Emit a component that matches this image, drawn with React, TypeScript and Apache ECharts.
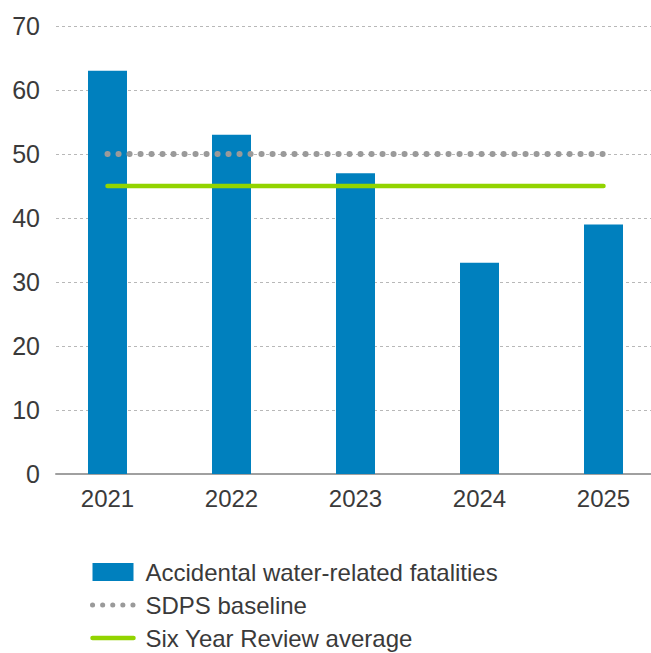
import React, { useEffect, useRef } from "react";
import * as echarts from "echarts";

const years = ["2021", "2022", "2023", "2024", "2025"];
const fatalities = [63, 53, 47, 33, 39];
const sdpsBaseline = [50, 50, 50, 50, 50];
const sixYearAverage = [45, 45, 45, 45, 45];
const yTicks = [0, 10, 20, 30, 40, 50, 60, 70];

const FONT = "'Liberation Sans', Arial, Helvetica, sans-serif";
const NARROW = "'Liberation Sans Narrow', 'Arial Narrow', 'Liberation Sans', Arial, sans-serif";

export default function App() {
  const ref = useRef<HTMLDivElement>(null);
  useEffect(() => {
    if (!ref.current) return;
    const chart = echarts.init(ref.current, undefined, { renderer: "svg" });
    const idx = years.map((_, i) => i);
    chart.setOption({
      animation: false,
      textStyle: { fontFamily: FONT },
      grid: { left: 56, right: 0, top: 26, bottom: 179 },
      xAxis: {
        type: "value",
        min: -0.4153,
        max: 4.383,
        axisLine: { show: true, lineStyle: { color: "#a0a0a0", width: 2 } },
        axisTick: { show: false },
        splitLine: { show: false },
        axisLabel: {
          customValues: idx,
          formatter: (v: number) => years[Math.round(v)] ?? "",
          color: "#3a3a3a",
          fontSize: 24,
          margin: 12,
          fontFamily: NARROW,
        },
      },
      yAxis: {
        type: "value",
        min: yTicks[0],
        max: yTicks[yTicks.length - 1],
        interval: 10,
        axisLine: { show: false },
        axisTick: { show: false },
        axisLabel: { color: "#3a3a3a", fontSize: 25, margin: 16, fontFamily: FONT },
        splitLine: { show: true, lineStyle: { color: "#b8b8b8", type: [3, 3], width: 1 } },
      },
      legend: {
        orient: "vertical",
        left: 90,
        top: 560,
        padding: 0,
        itemGap: 9,
        itemWidth: 41,
        itemHeight: 18,
        textStyle: { color: "#3a3a3a", fontSize: 24, fontFamily: FONT, padding: [0, 0, 0, 7] },
        data: [
          { name: "Accidental water-related fatalities", icon: "rect" },
          {
            name: "SDPS baseline",
            itemStyle: { opacity: 0 },
            lineStyle: { width: 5, color: "#9a9a9a", type: [0.1, 10], cap: "round" },
          },
          {
            name: "Six Year Review average",
            itemStyle: { opacity: 0 },
            lineStyle: { width: 4.5, color: "#92d400", cap: "round" },
          },
        ],
      },
      series: [
        {
          name: "Accidental water-related fatalities",
          type: "bar",
          data: fatalities.map((v, i) => [i, v]),
          barWidth: 39,
          itemStyle: { color: "#0080be" },
          z: 2,
        },
        {
          name: "SDPS baseline",
          type: "line",
          data: sdpsBaseline.map((v, i) => [i, v]),
          symbol: "none",
          lineStyle: { color: "#9a9a9a", width: 6, type: [0.1, 10.9], cap: "round" },
          itemStyle: { color: "#9a9a9a" },
          z: 3,
        },
        {
          name: "Six Year Review average",
          type: "line",
          data: sixYearAverage.map((v, i) => [i, v]),
          symbol: "none",
          lineStyle: { color: "#92d400", width: 4.5, cap: "round" },
          itemStyle: { color: "#92d400" },
          z: 4,
        },
      ],
    });
    return () => chart.dispose();
  }, []);
  return (
    <div
      ref={ref}
      style={{ position: "fixed", left: 0, top: 0, width: 651, height: 653, background: "#fff" }}
    />
  );
}
